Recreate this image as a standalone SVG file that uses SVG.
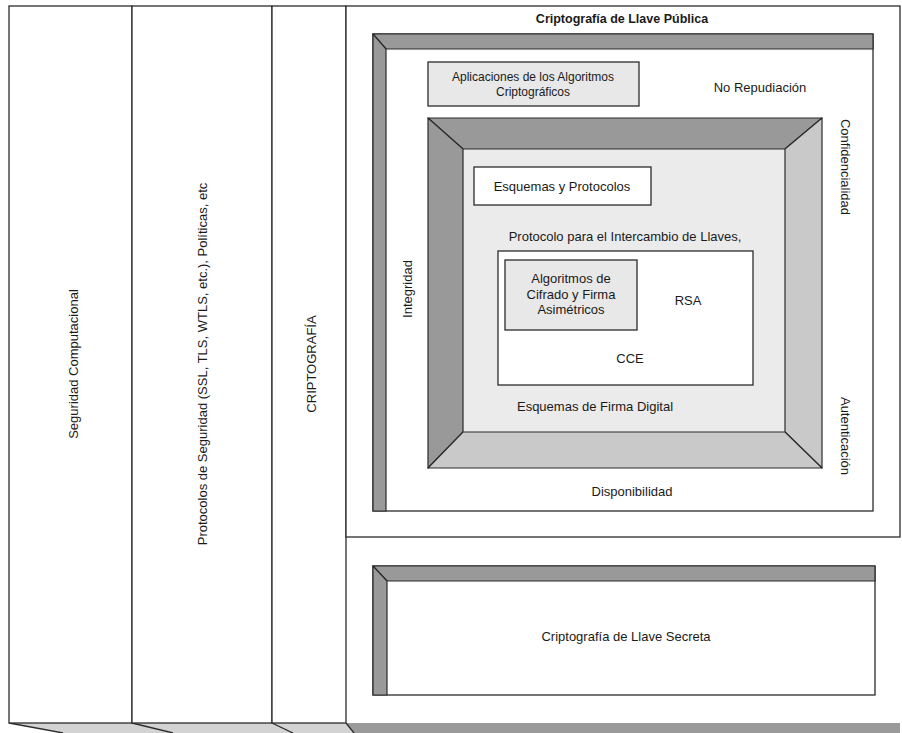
<svg xmlns="http://www.w3.org/2000/svg" width="902" height="733" viewBox="0 0 902 733">
  <style>
    .ln { stroke: #2b2b2b; stroke-width: 1.3; }
    .box { fill: #ffffff; stroke: #2b2b2b; stroke-width: 1.3; }
    .lt { fill: #e8e8e8; stroke: #2b2b2b; stroke-width: 1.3; }
    .dk { fill: #999999; stroke: #2b2b2b; stroke-width: 1.2; stroke-linejoin: round; }
    .md { fill: #c9c9c9; stroke: #2b2b2b; stroke-width: 1.2; stroke-linejoin: round; }
    text { font-family: "Liberation Sans", Arial, sans-serif; font-size: 13px; fill: #1a1a1a; text-anchor: middle; dominant-baseline: central; }
    .b { font-weight: bold; font-size: 12.5px; }
    .s { font-size: 12px; }
  </style>
  <rect width="902" height="733" fill="#ffffff"/>

  <!-- bottom faces of the stacked layers -->
  <g id="base">
    <polygon points="9,723 346,723 354,733 63,733" fill="#d3d3d3"/>
    <polygon points="346,723 900,723 900,733 354,733" fill="#9a9a9a"/>
    <line class="ln" x1="9" y1="723" x2="63" y2="733"/>
    <line class="ln" x1="132" y1="723" x2="173" y2="733"/>
    <line class="ln" x1="272" y1="723" x2="293" y2="733"/>
    <line class="ln" x1="346" y1="723" x2="354" y2="733"/>
  </g>

  <!-- vertical layers -->
  <g id="seguridad">
    <rect class="box" x="9" y="6" width="123" height="717"/>
    <text transform="translate(73,364) rotate(-90)">Seguridad Computacional</text>
  </g>
  <g id="protocolos">
    <rect class="box" x="132" y="6" width="140" height="717"/>
    <text transform="translate(202,364) rotate(-90)">Protocolos de Seguridad (SSL, TLS, WTLS, etc.), Políticas, etc</text>
  </g>
  <g id="criptografia">
    <rect class="box" x="272" y="6" width="74" height="717"/>
    <text transform="translate(311,364) rotate(-90)">CRIPTOGRAFÍA</text>
  </g>

  <!-- public key panel -->
  <g id="llave-publica">
    <rect class="box" x="346" y="6" width="554" height="531"/>
    <text class="b" x="622" y="19">Criptografía de Llave Pública</text>
    <rect class="box" x="373" y="34" width="500" height="477"/>
    <polygon class="dk" points="373,34 873,34 873,49 386,49"/>
    <polygon class="dk" points="373,34 386,49 386,511 373,511"/>
    <text x="760" y="87">No Repudiación</text>
    <text transform="translate(845,167) rotate(90)">Confidencialidad</text>
    <text transform="translate(845,436) rotate(90)">Autenticación</text>
    <text transform="translate(407,289) rotate(-90)">Integridad</text>
    <text x="632" y="491">Disponibilidad</text>
  </g>

  <g id="aplicaciones">
    <rect class="lt" x="428" y="62" width="211" height="44"/>
    <text class="s" x="533" y="77">Aplicaciones de los Algoritmos</text>
    <text class="s" x="533" y="92">Criptográficos</text>
  </g>

  <!-- bevelled block -->
  <g id="bisel">
    <rect x="463" y="149" width="322" height="283" fill="#ebebeb"/>
    <polygon class="dk" points="428,118 822,118 785,149 463,149"/>
    <polygon class="dk" points="428,118 463,149 463,432 428,468"/>
    <polygon class="md" points="822,118 822,468 785,432 785,149"/>
    <polygon class="md" points="428,468 463,432 785,432 822,468"/>
    <text x="625" y="236">Protocolo para el Intercambio de Llaves,</text>
    <text x="595" y="406">Esquemas de Firma Digital</text>
  </g>

  <g id="esquemas">
    <rect class="box" x="474" y="167" width="177" height="38"/>
    <text x="562" y="186">Esquemas y Protocolos</text>
  </g>

  <g id="cifrado">
    <rect class="box" x="498" y="251" width="255" height="134"/>
    <text x="688" y="300">RSA</text>
    <text x="630" y="358">CCE</text>
  </g>

  <g id="algoritmos">
    <rect class="lt" x="505" y="260" width="132" height="70"/>
    <text x="571" y="278">Algoritmos de</text>
    <text x="571" y="294">Cifrado y Firma</text>
    <text x="571" y="309">Asimétricos</text>
  </g>

  <!-- secret key panel -->
  <g id="llave-secreta">
    <rect class="box" x="373" y="566" width="502" height="129"/>
    <polygon class="dk" points="373,566 875,566 875,581 387,581"/>
    <polygon class="dk" points="373,566 387,581 387,695 373,695"/>
    <text x="626" y="636">Criptografía de Llave Secreta</text>
  </g>
</svg>
